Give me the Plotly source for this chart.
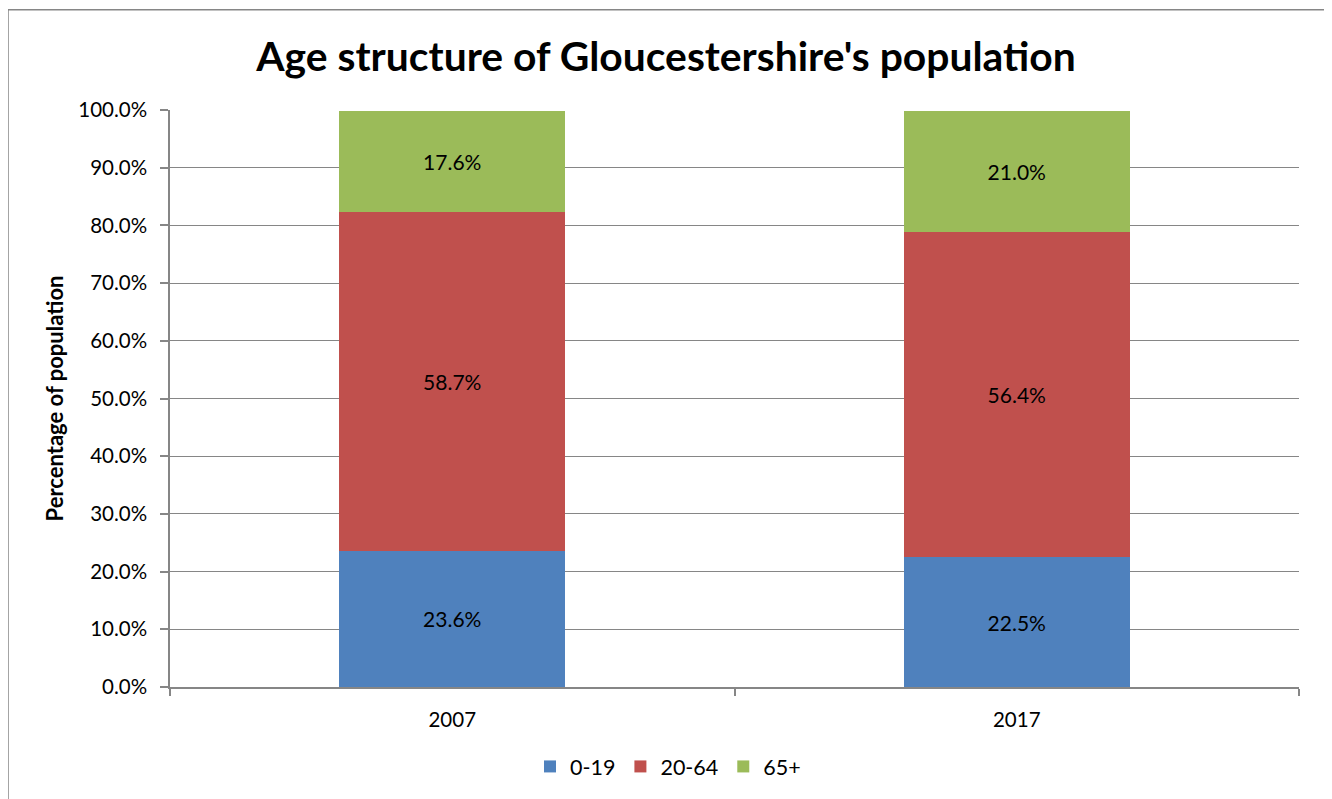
import plotly.graph_objects as go

years = ["2007", "2017"]
age_groups = ["0-19", "20-64", "65+"]
shares = {
    "0-19": [0.236, 0.225],
    "20-64": [0.587, 0.564],
    "65+": [0.176, 0.210],
}
colors = {"0-19": "#4F81BD", "20-64": "#C0504D", "65+": "#9BBB59"}

FONT = "Lato, Liberation Sans, Arial, sans-serif"

fig = go.Figure()
for g in age_groups:
    fig.add_trace(go.Bar(
        x=years, y=shares[g], name=g,
        marker=dict(color=colors[g], line=dict(width=0)),
        width=0.4,
        text=[f"{v*100:.1f}%" for v in shares[g]],
        textposition="inside", insidetextanchor="middle",
        textfont=dict(color="black", size=21, family=FONT),
        constraintext="none",
    ))

OFF = 8  # page body margin
W, H = 1332 - OFF, 799 - OFF
L, T = 170 - OFF, 110 - OFF
R = W - (1299 - OFF)
B = H - (691 - OFF)
pw, ph = W - L - R, H - T - B

def px_x(x):
    return (x - OFF - L) / pw

def px_y(y):
    return (H - B - (y - OFF)) / ph

fig.update_layout(
    width=W, height=H,
    barmode="stack",
    bargap=0.6,
    plot_bgcolor="white", paper_bgcolor="white",
    margin=dict(l=L, r=R, t=T, b=B),
    font=dict(family=FONT, size=20, color="black"),
    title=dict(text="<b>Age structure of Gloucestershire's population</b>",
               xref="container", x=(666 - OFF) / W, xanchor="center",
               y=1 - (57 - OFF) / H, yanchor="middle",
               font=dict(size=40.8, family=FONT, color="black")),
    legend=dict(orientation="h", x=px_x(668), xanchor="center",
                y=px_y(771), yanchor="middle",
                font=dict(size=21.5, family=FONT), traceorder="normal",
                itemwidth=30, tracegroupgap=0),
    xaxis=dict(showline=True, linecolor="#868686", linewidth=1.5,
               ticks="outside", tickson="boundaries", ticklen=7,
               tickcolor="#868686", tickwidth=1.5, ticklabelstandoff=14,
               tickfont=dict(size=20.5), showgrid=False),
    yaxis=dict(range=[0, 1], dtick=0.1, tickformat=".1%",
               showline=True, linecolor="#868686", linewidth=1.5,
               ticks="outside", ticklen=8, tickcolor="#868686", tickwidth=1.5,
               ticklabelstandoff=9,
               showgrid=True, gridcolor="#868686", gridwidth=1.2,
               zeroline=False, tickfont=dict(size=20.5),
               title=dict(text="<b>Percentage of population</b>",
                          font=dict(size=22), standoff=9)),
    shapes=[dict(type="rect", xref="paper", yref="paper",
                 x0=px_x(8), x1=px_x(1325), y0=px_y(830), y1=px_y(9),
                 line=dict(color="#868686", width=1.5), layer="below")],
)

fig.write_html("out.html")
